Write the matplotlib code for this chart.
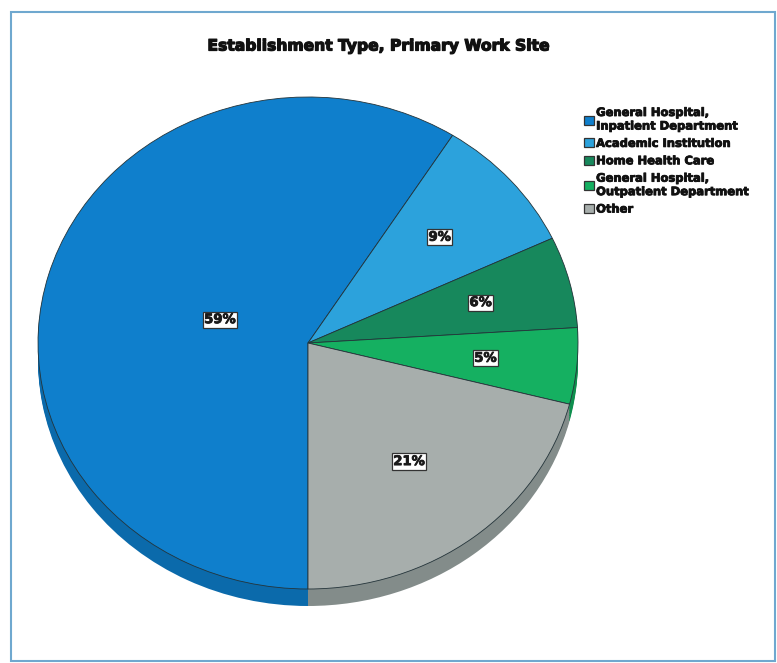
import matplotlib
matplotlib.use("Agg")
import matplotlib.pyplot as plt
import matplotlib.patheffects as pe
import numpy as np
from matplotlib.patches import Rectangle

# Survey data: primary work site by establishment type
categories = [
    "General Hospital,\nInpatient Department",
    "Academic Institution",
    "Home Health Care",
    "General Hospital,\nOutpatient Department",
    "Other",
]
shares = [59, 9, 6, 5, 21]
pct_labels = ["59%", "9%", "6%", "5%", "21%"]
title = "Establishment Type, Primary Work Site"

# Styling
top_colors = ["#0f7fcc", "#2ca2dc", "#17885c", "#15b061", "#a7aeac"]
side_colors = ["#0b6aab", "#2289b9", "#11704b", "#0f8f4e", "#838c8a"]
label_radius = [0.34, 0.65, 0.66, 0.66, 0.61]
heavy = [pe.withStroke(linewidth=0.9, foreground="#111111")]

W, H = 777, 663
fig = plt.figure(figsize=(W / 100, H / 100), dpi=100)
fig.patch.set_facecolor("white")
ax = fig.add_axes([0, 0, 1, 1])

# pie geometry in pixels (elliptical, tilted look)
cx_px, cy_px = 308, 343
rx_px, ry_px = 270, 246
depth = 17 / ry_px

# side of the tilted pie: stacked darker copies shifted downward
n = 10
for k in range(n, 0, -1):
    off = -depth * k / n
    ax.pie(shares, colors=side_colors, startangle=270, counterclock=False,
           center=(0, off), wedgeprops=dict(linewidth=0))

wedges, _ = ax.pie(shares, colors=top_colors, startangle=270, counterclock=False,
                   wedgeprops=dict(edgecolor="#24343a", linewidth=0.6))

ax.set_aspect("auto")
ax.set_xlim(-cx_px / rx_px, (W - cx_px) / rx_px)
ax.set_ylim(-(H - cy_px) / ry_px, cy_px / ry_px)
ax.axis("off")

# percentage labels in white boxes
for w, lab, r in zip(wedges, pct_labels, label_radius):
    mid = np.deg2rad((w.theta1 + w.theta2) / 2)
    t = ax.text(r * np.cos(mid), r * np.sin(mid), lab, ha="center", va="center",
                fontsize=9.5, fontweight="bold", color="#1a1a1a",
                bbox=dict(boxstyle="square,pad=0.12", fc="white", ec="#333333", lw=0.9))
    t.set_path_effects([pe.withStroke(linewidth=0.6, foreground="#1a1a1a")])

tt = fig.text(378 / W, 1 - 46 / H, title, ha="center", va="center",
              fontsize=11.2, fontweight="bold", color="#111111")
tt.set_path_effects(heavy)

leg = fig.legend(wedges, categories, loc="upper left",
                 bbox_to_anchor=(584 / W, 1 - 106 / H), frameon=False,
                 prop=dict(weight="bold", size=8.3),
                 handlelength=0.85, handleheight=0.85, handletextpad=0.2,
                 labelspacing=0.38, borderaxespad=0, borderpad=0)
for t in leg.get_texts():
    t.set_linespacing(1.05)
    t.set_color("#111111")
    t.set_path_effects([pe.withStroke(linewidth=0.6, foreground="#111111")])
for h in leg.legend_handles:
    h.set_edgecolor("#333333")
    h.set_linewidth(0.9)

# outer chart frame
fig.patches.append(Rectangle((11 / W, 2 / H), (775 - 11) / W, (661 - 12) / H,
                             transform=fig.transFigure, fill=False,
                             edgecolor="#6fa8cf", linewidth=1.5))

fig.savefig("out.png", dpi=100)
